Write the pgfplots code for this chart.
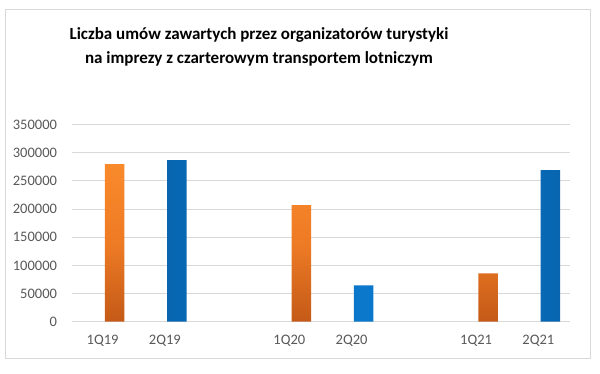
\documentclass[border=0pt]{standalone}
\usepackage{pgfplots}
\pgfplotsset{compat=1.18}
\usepackage{fontspec}
\setmainfont{Carlito}
\definecolor{gridc}{HTML}{D9D9D9}
\definecolor{tickc}{HTML}{595959}
\definecolor{orA}{HTML}{F98A2B}
\definecolor{orM}{HTML}{EE7B25}
\definecolor{orB}{HTML}{C45A18}
\definecolor{blA}{HTML}{0B78CC}
\definecolor{blB}{HTML}{0866B0}
\begin{document}
\begin{tikzpicture}[x=1bp,y=1bp]
\useasboundingbox (0,0) rectangle (600,-373);
\fill[white] (0,0) rectangle (600,-373);
\draw[gridc, line width=0.8bp] (5,-9) rectangle (590,-358);
\node[font=\bfseries\fontsize{17bp}{24bp}\selectfont, align=center, anchor=center] at (259,-47)
  {Liczba umów zawartych przez organizatorów turystyki\\na imprezy z czarterowym transportem lotniczym};
\begin{axis}[
  at={(71.5bp,-321.7bp)}, anchor=south west,
  scale only axis, width=498bp, height=197.2bp,
  xmin=-0.5, xmax=7.5, ymin=0, ymax=350000,
  ytick={0,50000,...,350000},
  scaled y ticks=false,
  yticklabel style={/pgf/number format/fixed, /pgf/number format/1000 sep={}, font=\fontsize{14.5bp}{16bp}\selectfont, text=tickc},
  /pgf/number format/assume math mode=true,
  xtick={0,1,3,4,6,7},
  xticklabels={1Q19,2Q19,1Q20,2Q20,1Q21,2Q21},
  xticklabel style={font=\fontsize{14.5bp}{16bp}\selectfont, text=tickc},
  major tick length=0pt,
  ymajorgrids, grid style={gridc, line width=0.8bp},
  axis x line*=bottom, axis y line*=left,
  x axis line style={gridc, line width=0.8bp, -},
  y axis line style={draw=none},
  yticklabel style={xshift=-11bp},
  xticklabel style={yshift=-10bp},
  ybar, bar width=19.5bp,
  clip=false,
]
\addplot[bar shift=12bp, draw=none, top color=orA, bottom color=orB, middle color=orM] coordinates {(0,279600) (3,207000) (6,86000)};
\addplot[bar shift=12bp, draw=none, left color=blB, right color=blB, middle color=blA] coordinates {(1,286800) (4,64500) (7,269000)};
\end{axis}
\end{tikzpicture}
\end{document}
